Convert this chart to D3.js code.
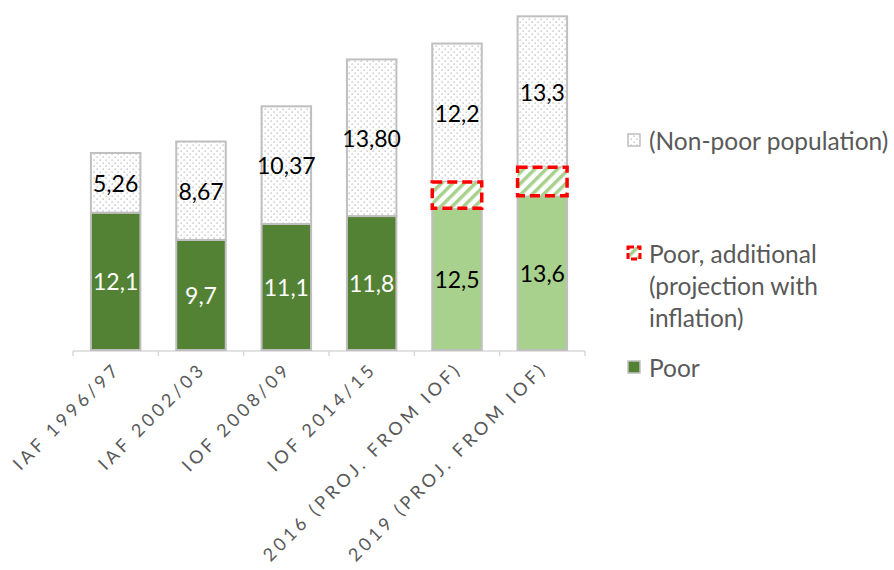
<!DOCTYPE html>
<html>
<head>
<meta charset="utf-8">
<script src="https://cdn.jsdelivr.net/npm/d3@7"></script>
<style>
  html, body { margin: 0; padding: 0; background: #fff; }
  svg { display: block; }
</style>
</head>
<body>
<svg id="chart" width="894" height="570"></svg>
<script>
// ---- data ----
const categories = ["IAF 1996/97", "IAF 2002/03", "IOF 2008/09", "IOF 2014/15", "2016 (PROJ. FROM IOF)", "2019 (PROJ. FROM IOF)"];
const poor = [12.1, 9.7, 11.1, 11.8, 12.5, 13.6];
const poorAdditional = [0, 0, 0, 0, 2.3, 2.5];
const nonPoor = [5.26, 8.67, 10.37, 13.80, 12.2, 13.3];
const poorLabels = ["12,1", "9,7", "11,1", "11,8", "12,5", "13,6"];
const nonPoorLabels = ["5,26", "8,67", "10,37", "13,80", "12,2", "13,3"];
const projected = [false, false, false, false, true, true];
const seriesNames = ["Poor", "Poor, additional (projection with inflation)", "(Non-poor population)"];

// ---- chart ----
const svg = d3.select("#chart");
const FONT = "Lato, 'Open Sans', sans-serif";
const baseY = 350;

const rows = categories.map((c, i) => ({cat: c, poor: poor[i], add: poorAdditional[i], non: nonPoor[i], i}));
const stack = d3.stack().keys(["poor", "add", "non"]);
const layers = stack(rows);

const x = d3.scaleBand().domain(categories).range([73, 585]).paddingInner(0.42).paddingOuter(0.21);
const y = d3.scaleLinear().domain([0, 30]).range([baseY, baseY - 30 * 11.35]);

// patterns
const defs = svg.append("defs");
const dots = defs.append("pattern").attr("id", "dots").attr("patternUnits", "userSpaceOnUse")
  .attr("width", 6).attr("height", 6);
dots.append("rect").attr("width", 6).attr("height", 6).attr("fill", "#fff");
dots.append("rect").attr("x", 0.5).attr("y", 0.5).attr("width", 1.3).attr("height", 1.3).attr("fill", "#b8b8b8");
dots.append("rect").attr("x", 3.5).attr("y", 3.5).attr("width", 1.3).attr("height", 1.3).attr("fill", "#b8b8b8");

const stripes = defs.append("pattern").attr("id", "stripes").attr("patternUnits", "userSpaceOnUse")
  .attr("width", 8).attr("height", 8).attr("patternTransform", "rotate(45)");
stripes.append("rect").attr("width", 8).attr("height", 8).attr("fill", "#fff");
stripes.append("rect").attr("x", 0).attr("y", 0).attr("width", 3.5).attr("height", 8).attr("fill", "#A9D18E");

const DARK = "#548235", LIGHT = "#A9D18E", BORDER = "#BFBFBF";

// axis line + ticks
const axisG = svg.append("g");
const [r0, r1] = x.range();
axisG.append("line").attr("x1", r0).attr("x2", r1).attr("y1", baseY + 1).attr("y2", baseY + 1)
  .attr("stroke", "#D9D9D9").attr("stroke-width", 1.5);
const step = x.step();
const tickXs = categories.map(c => x(c) - (step - x.bandwidth()) / 2).concat([r1]);
axisG.selectAll("line.tick").data(tickXs).join("line").attr("class", "tick")
  .attr("x1", d => d).attr("x2", d => d).attr("y1", baseY + 1).attr("y2", baseY + 6)
  .attr("stroke", "#D9D9D9").attr("stroke-width", 1.5);

// bars
svg.append("g").selectAll("rect").data(layers[0]).join("rect")
  .attr("x", d => x(d.data.cat)).attr("width", x.bandwidth())
  .attr("y", d => y(d[1])).attr("height", d => y(d[0]) - y(d[1]))
  .attr("fill", d => projected[d.data.i] ? LIGHT : DARK)
  .attr("stroke", BORDER).attr("stroke-width", 2);
svg.append("g").selectAll("rect").data(layers[2]).join("rect")
  .attr("x", d => x(d.data.cat)).attr("width", x.bandwidth())
  .attr("y", d => y(d[1])).attr("height", d => y(d[0]) - y(d[1]))
  .attr("fill", "url(#dots)")
  .attr("stroke", BORDER).attr("stroke-width", 2);
svg.append("g").selectAll("rect").data(layers[1].filter(d => d[1] - d[0] > 0)).join("rect")
  .attr("x", d => x(d.data.cat)).attr("width", x.bandwidth())
  .attr("y", d => y(d[1])).attr("height", d => y(d[0]) - y(d[1]))
  .attr("fill", "url(#stripes)")
  .attr("stroke", "#FF0000").attr("stroke-width", 3.5).attr("stroke-dasharray", "10,5");

// labels
svg.append("g").selectAll("text").data(layers[0]).join("text")
  .attr("x", d => x(d.data.cat) + x.bandwidth() / 2)
  .attr("y", d => (y(d[0]) + y(d[1])) / 2)
  .attr("text-anchor", "middle").attr("dominant-baseline", "central")
  .attr("font-family", FONT).attr("font-size", 23)
  .attr("fill", d => projected[d.data.i] ? "#000" : "#fff")
  .text(d => poorLabels[d.data.i]);
svg.append("g").selectAll("text").data(layers[2]).join("text")
  .attr("x", d => x(d.data.cat) + x.bandwidth() / 2)
  .attr("y", d => (y(d[0]) + y(d[1])) / 2)
  .attr("text-anchor", "middle").attr("dominant-baseline", "central")
  .attr("font-family", FONT).attr("font-size", 23)
  .attr("fill", "#000")
  .text(d => nonPoorLabels[d.data.i]);

// x labels rotated
svg.append("g").selectAll("text").data(categories).join("text")
  .attr("transform", c => `translate(${x(c) + x.bandwidth() / 2 + 6},${baseY + 20}) rotate(-45)`)
  .attr("text-anchor", "end")
  .attr("font-family", FONT).attr("font-size", 18).attr("letter-spacing", 3.7)
  .attr("fill", "#595959")
  .text(c => c);

// legend
const leg = svg.append("g").attr("font-family", FONT).attr("font-size", 24.5).attr("fill", "#595959");
const legItems = [
  {name: seriesNames[2], lines: ["(Non-poor population)"], y: 140, type: "non"},
  {name: seriesNames[1], lines: ["Poor, additional", "(projection with", "inflation)"], y: 253, type: "add"},
  {name: seriesNames[0], lines: ["Poor"], y: 367, type: "poor"}
];
legItems.forEach(it => {
  const g = leg.append("g");
  if (it.type === "non") {
    g.append("rect").attr("x", 628).attr("y", it.y - 6).attr("width", 12).attr("height", 12)
      .attr("fill", "url(#dots)").attr("stroke", BORDER).attr("stroke-width", 1.5);
  } else if (it.type === "add") {
    g.append("rect").attr("x", 628).attr("y", it.y - 6).attr("width", 12).attr("height", 12)
      .attr("fill", "url(#stripes)").attr("stroke", "#FF0000").attr("stroke-width", 3).attr("stroke-dasharray", "6,3");
  } else {
    g.append("rect").attr("x", 628).attr("y", it.y - 6).attr("width", 12).attr("height", 12)
      .attr("fill", DARK).attr("stroke", BORDER).attr("stroke-width", 1.5);
  }
  it.lines.forEach((l, k) => {
    g.append("text").attr("x", 649).attr("y", it.y + k * 32).attr("dominant-baseline", "central").text(l);
  });
});
</script>
</body>
</html>
